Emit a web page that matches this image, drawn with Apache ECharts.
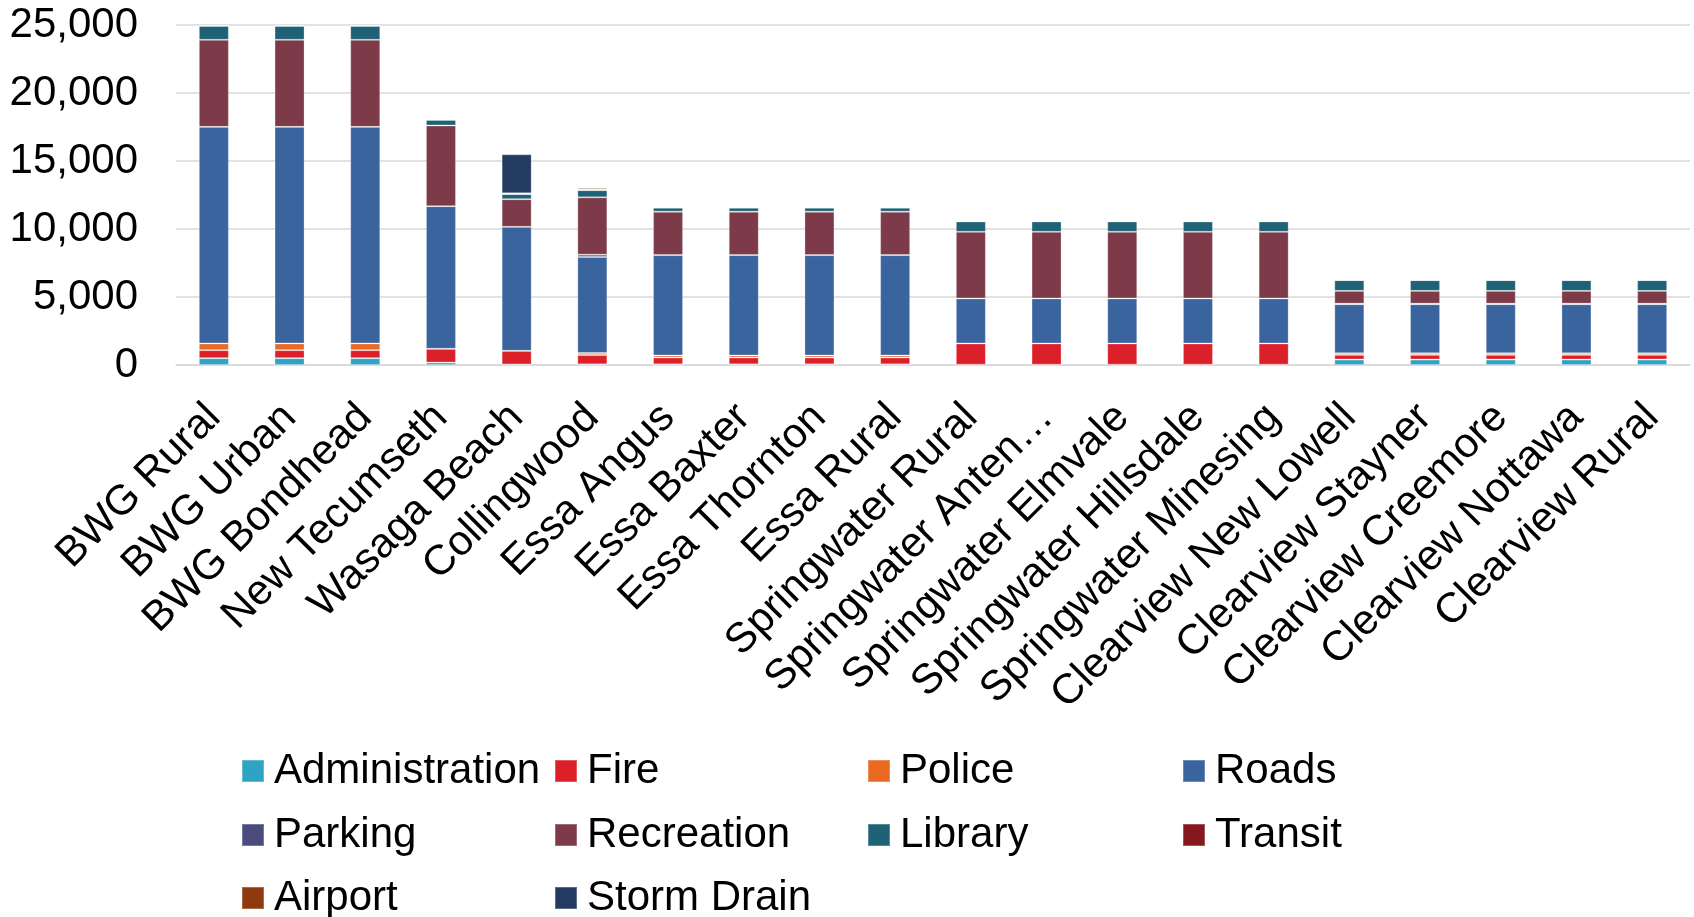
<!DOCTYPE html>
<html>
<head>
<meta charset="utf-8">
<title>Development charges by service and area</title>
<script src="https://cdn.jsdelivr.net/npm/echarts@6/dist/echarts.min.js"></script>
<style>
  html, body { margin: 0; padding: 0; background: #ffffff; }
  #chart { width: 1694px; height: 917px; }
</style>
</head>
<body>
<div id="chart"></div>
<script>
// Areas along the category axis
const areas = [
  'BWG Rural', 'BWG Urban', 'BWG Bondhead', 'New Tecumseth', 'Wasaga Beach',
  'Collingwood', 'Essa Angus', 'Essa Baxter', 'Essa Thornton', 'Essa Rural',
  'Springwater Rural', 'Springwater Anten Mills', 'Springwater Elmvale',
  'Springwater Hillsdale', 'Springwater Minesing',
  'Clearview New Lowell', 'Clearview Stayner', 'Clearview Creemore',
  'Clearview Nottawa', 'Clearview Rural'
];

// Charge per service, one value per area (stacked bottom to top)
const administration = [500, 500, 500, 180, 40, 50, 50, 50, 50, 50, 20, 20, 20, 20, 20, 400, 400, 400, 400, 400];
const fire           = [590, 590, 590, 1010, 1000, 680, 500, 500, 500, 500, 1560, 1560, 1560, 1560, 1560, 345, 345, 345, 345, 345];
const police         = [490, 490, 490, 0, 0, 150, 150, 150, 150, 150, 0, 0, 0, 0, 0, 125, 125, 125, 125, 125];
const roads          = [15930, 15930, 15930, 10490, 9120, 7060, 7380, 7380, 7380, 7380, 3310, 3310, 3310, 3310, 3310, 3600, 3600, 3600, 3600, 3600];
const parking        = [0, 0, 0, 0, 0, 170, 0, 0, 0, 0, 0, 0, 0, 0, 0, 40, 40, 40, 40, 40];
const recreation     = [6400, 6400, 6400, 5930, 2030, 4220, 3190, 3190, 3190, 3190, 4900, 4900, 4900, 4900, 4900, 940, 940, 940, 940, 940];
const library        = [1030, 1030, 1030, 420, 370, 520, 300, 300, 300, 300, 760, 760, 760, 760, 760, 790, 790, 790, 790, 790];
const transit        = [0, 0, 0, 0, 60, 80, 0, 0, 0, 0, 0, 0, 0, 0, 0, 0, 0, 0, 0, 0];
const airport        = [0, 0, 0, 0, 0, 110, 0, 0, 0, 0, 0, 0, 0, 0, 0, 0, 0, 0, 0, 0];
const stormDrain     = [0, 0, 0, 0, 2870, 0, 0, 0, 0, 0, 0, 0, 0, 0, 0, 0, 0, 0, 0, 0];

// Value axis ticks
const yTicks = [0, 5000, 10000, 15000, 20000, 25000];

const services = [
  { name: 'Administration', data: administration, color: '#2ea3c3' },
  { name: 'Fire',           data: fire,           color: '#dc202a' },
  { name: 'Police',         data: police,         color: '#ea6a21' },
  { name: 'Roads',          data: roads,          color: '#3a649e' },
  { name: 'Parking',        data: parking,        color: '#4a4c7e' },
  { name: 'Recreation',     data: recreation,     color: '#7d3b4a' },
  { name: 'Library',        data: library,        color: '#1f6275' },
  { name: 'Transit',        data: transit,        color: '#85171e' },
  { name: 'Airport',        data: airport,        color: '#8e3a0e' },
  { name: 'Storm Drain',    data: stormDrain,     color: '#233b61' }
];

const FONT = '"Liberation Sans", Arial, sans-serif';
const FONT_SIZE = 42;

// Legend grid: four columns, three rows, filled row by row
const legendCols = [241, 554, 867, 1182];
const legendRows = [750, 814, 877];

const legends = services.map((s, i) => ({
  left: legendCols[i % 4],
  top: legendRows[Math.floor(i / 4)],
  padding: 0,
  itemWidth: 22,
  itemHeight: 22,
  icon: 'rect',
  data: [s.name],
  selectedMode: false,
  textStyle: { fontFamily: FONT, fontSize: FONT_SIZE, lineHeight: 42, color: '#000000', padding: [0, 0, 0, 5] }
}));

const chart = echarts.init(document.getElementById('chart'), null, { renderer: 'canvas' });

chart.setOption({
  animation: false,
  backgroundColor: '#ffffff',
  color: services.map(s => s.color),
  grid: { left: 176, right: 4, top: 25, bottom: 552, containLabel: false },
  legend: legends,
  xAxis: {
    type: 'category',
    data: areas,
    axisTick: { show: false },
    axisLine: { show: true, lineStyle: { color: '#d9d9d9', width: 1.5 } },
    axisLabel: {
      interval: 0,
      rotate: 45,
      margin: 46,
      fontFamily: FONT,
      fontSize: FONT_SIZE,
      color: '#000000',
      formatter: v => (v.length > 21 ? v.slice(0, 17) + '\u2026' : v)
    }
  },
  yAxis: {
    type: 'value',
    min: yTicks[0],
    max: yTicks[yTicks.length - 1],
    interval: yTicks[1] - yTicks[0],
    axisLine: { show: false },
    axisTick: { show: false },
    splitLine: { lineStyle: { color: '#d9d9d9', width: 1.5 } },
    axisLabel: {
      margin: 38,
      fontFamily: FONT,
      fontSize: FONT_SIZE,
      color: '#000000',
      formatter: v => v.toLocaleString('en-US')
    }
  },
  series: services.map(s => ({
    name: s.name,
    type: 'bar',
    stack: 'total',
    barWidth: 30,
    data: s.data,
    itemStyle: { color: s.color, borderColor: 'rgba(255,255,255,0.25)', borderWidth: 1 },
    emphasis: { disabled: true }
  }))
});
</script>
</body>
</html>
